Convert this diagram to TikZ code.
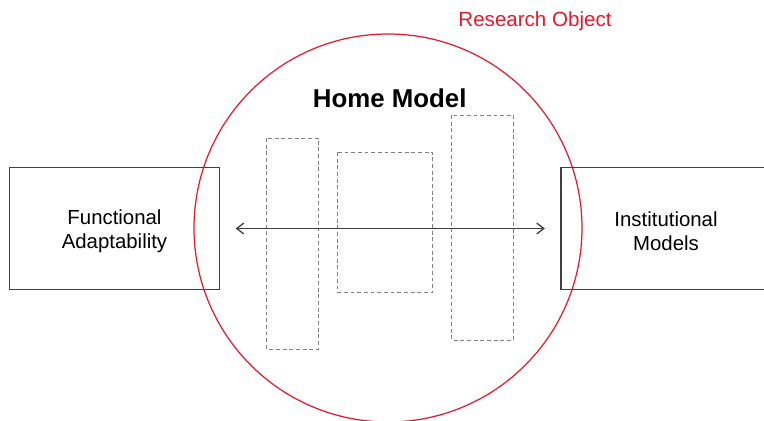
\documentclass[tikz,border=0pt]{standalone}
\usepackage{fontspec}
\setmainfont{Liberation Sans}
\usetikzlibrary{arrows.meta}

\definecolor{roRed}{RGB}{228,26,42}
\definecolor{lineGray}{RGB}{64,64,64}

\begin{document}
\begin{tikzpicture}[x=0.02cm,y=-0.02cm,
    modelbox/.style={draw=lineGray, line width=0.8pt, minimum width=4.2cm,
        minimum height=2.44cm, inner sep=0pt, align=center,
        font=\fontsize{11.6}{14.2}\selectfont},
    partbox/.style={draw=gray, line width=0.4pt, dash pattern=on 2.2pt off 1.6pt},
    linkarrow/.style={{Straight Barb[length=4pt,width=6.2pt]}-{Straight Barb[length=4pt,width=6.2pt]},
        draw=lineGray, line width=0.75pt, shorten <=0.31cm, shorten >=0.31cm}]

    \useasboundingbox (0,0) rectangle (764,421);

	\node (ro) at (535,21.5) [text=roRed, font=\fontsize{11.7}{14}\selectfont] {Research Object};
	\node (home) at (389.7,98) [font=\bfseries\fontsize{14.7}{17}\selectfont] {Home Model};

    \draw [partbox] (266.7,138) rectangle (318.7,349);
    \draw [partbox] (337.7,152) rectangle (432.7,292.7);
    \draw [partbox] (451.7,115) rectangle (513.3,340);

	\node (fa) at (114.5,228.5) [modelbox] {\rule{0pt}{11.5pt}Functional\\Adaptability};
	\node (im) at (666,228.5)   [modelbox] {\rule{0pt}{11.5pt}Institutional\\Models};

    \draw [linkarrow] (fa.east) -- (im.west);

    % research object boundary, on top of the boxes
    \coordinate (center) at (388,228);
    \draw [roRed, line width=0.7pt] (center) circle [radius=194];
\end{tikzpicture}
\end{document}
